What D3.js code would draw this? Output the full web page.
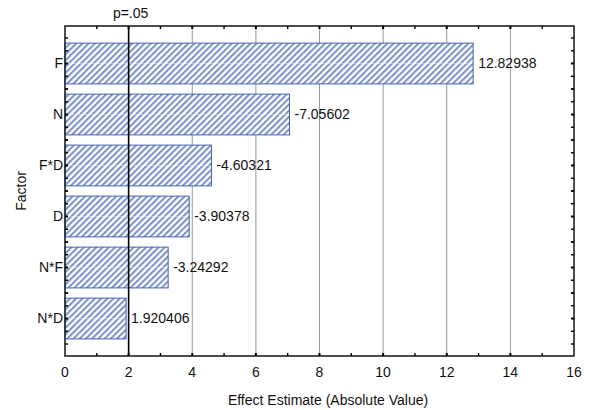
<!DOCTYPE html>
<html><head><meta charset="utf-8">
<script src="https://cdn.jsdelivr.net/npm/d3@7"></script>
<style>body{margin:0;background:#fff;} svg{display:block;}</style>
</head><body>
<script>
const factors = ["F","N","F*D","D","N*F","N*D"];
const effects = [12.82938, -7.05602, -4.60321, -3.90378, -3.24292, 1.920406];
const effectLabels = ["12.82938","-7.05602","-4.60321","-3.90378","-3.24292","1.920406"];
const xTicks = [0,2,4,6,8,10,12,14,16];
const pValue = 2;

const W=590,H=410;
const L=65,R=574,T=26,B=356;
const svg=d3.select("body").append("svg").attr("width",W).attr("height",H);
const font="Liberation Sans, Arial, sans-serif";
const fs=14;

const defs=svg.append("defs");
const pat=defs.append("pattern").attr("id","hatch").attr("patternUnits","userSpaceOnUse")
  .attr("width",4.4).attr("height",4.4).attr("patternTransform","rotate(45)");
pat.append("rect").attr("width",4.4).attr("height",4.4).attr("fill","#fff");
pat.append("rect").attr("x",0).attr("y",0).attr("width",2).attr("height",4.4).attr("fill","#7b90cd");

const x=d3.scaleLinear().domain([0,16]).range([L,R]);
const y=d3.scaleBand().domain(factors).range([T+12,B-12]).paddingInner(0.2).paddingOuter(0.1);

// grid
svg.append("g").selectAll("line").data(xTicks.filter(d=>d>2&&d<16)).join("line")
  .attr("x1",d=>x(d)).attr("x2",d=>x(d)).attr("y1",T).attr("y2",B)
  .attr("stroke","#999").attr("stroke-width",1);

// bars
const g=svg.append("g");
factors.forEach((f,i)=>{
  const v=Math.abs(effects[i]);
  g.append("rect").attr("x",x(0)).attr("y",y(f)).attr("width",x(v)-x(0)).attr("height",y.bandwidth())
    .attr("fill","url(#hatch)").attr("stroke","#4463b0").attr("stroke-width",1);
  g.append("line").attr("x1",x(0)+1).attr("x2",x(v)-1).attr("y1",y(f)+y.bandwidth()/2).attr("y2",y(f)+y.bandwidth()/2)
    .attr("stroke","#fff").attr("stroke-opacity",0.4).attr("stroke-width",1);
  svg.append("text").attr("x",x(v)+5).attr("y",y(f)+y.bandwidth()/2).attr("dy","0.35em")
    .attr("font-family",font).attr("font-size",fs).attr("fill","#111").text(effectLabels[i]);
});

// p line
svg.append("line").attr("x1",x(pValue)).attr("x2",x(pValue)).attr("y1",T).attr("y2",B)
  .attr("stroke","#000").attr("stroke-width",1.6);
svg.append("text").attr("x",x(pValue)+2).attr("y",18).attr("text-anchor","middle")
  .attr("font-family",font).attr("font-size",fs).attr("fill","#111").text("p=.05");

// frame
svg.append("rect").attr("x",L).attr("y",T).attr("width",R-L).attr("height",B-T)
  .attr("fill","none").attr("stroke","#222").attr("stroke-width",1.6);

// x axis ticks (top & bottom, inside)
const xMinor=d3.range(1,16,1);
[B,T].forEach(yy=>{
  const dir = yy===B?-1:1;
  svg.append("g").selectAll("line").data(xMinor).join("line")
    .attr("x1",d=>x(d)).attr("x2",d=>x(d)).attr("y1",yy).attr("y2",yy+dir*3)
    .attr("stroke","#000").attr("stroke-width",d=>d%2===0?2:1.4);
});
// x tick labels
svg.append("g").selectAll("text").data(xTicks).join("text")
  .attr("x",d=>x(d)).attr("y",377).attr("text-anchor","middle")
  .attr("font-family",font).attr("font-size",fs).attr("fill","#111").text(d=>d);

// y ticks left & right
const step=y.step();
const yTickPos=[];
factors.forEach(f=>{
  const c=y(f)+y.bandwidth()/2;
  for(let k=-2;k<=2;k++){yTickPos.push({p:c+k*step/4,major:k===0});}
});
[L,R].forEach(xx=>{
  const dir = xx===L?1:-1;
  svg.append("g").selectAll("line").data(yTickPos.filter(d=>d.p>T+2&&d.p<B-2)).join("line")
    .attr("x1",xx).attr("x2",xx+dir*3).attr("y1",d=>d.p).attr("y2",d=>d.p)
    .attr("stroke","#000").attr("stroke-width",d=>d.major?2:1.4);
});
// y labels
svg.append("g").selectAll("text").data(factors).join("text")
  .attr("x",L-2).attr("y",d=>y(d)+y.bandwidth()/2).attr("dy","0.35em").attr("text-anchor","end")
  .attr("font-family",font).attr("font-size",fs).attr("fill","#111").text(d=>d);

// axis titles
svg.append("text").attr("x",328).attr("y",405).attr("text-anchor","middle")
  .attr("font-family",font).attr("font-size",fs).attr("fill","#111").text("Effect Estimate (Absolute Value)");
svg.append("text").attr("transform",`translate(26,${(T+B)/2}) rotate(-90)`).attr("text-anchor","middle")
  .attr("font-family",font).attr("font-size",fs).attr("fill","#111").text("Factor");
</script>
</body></html>
